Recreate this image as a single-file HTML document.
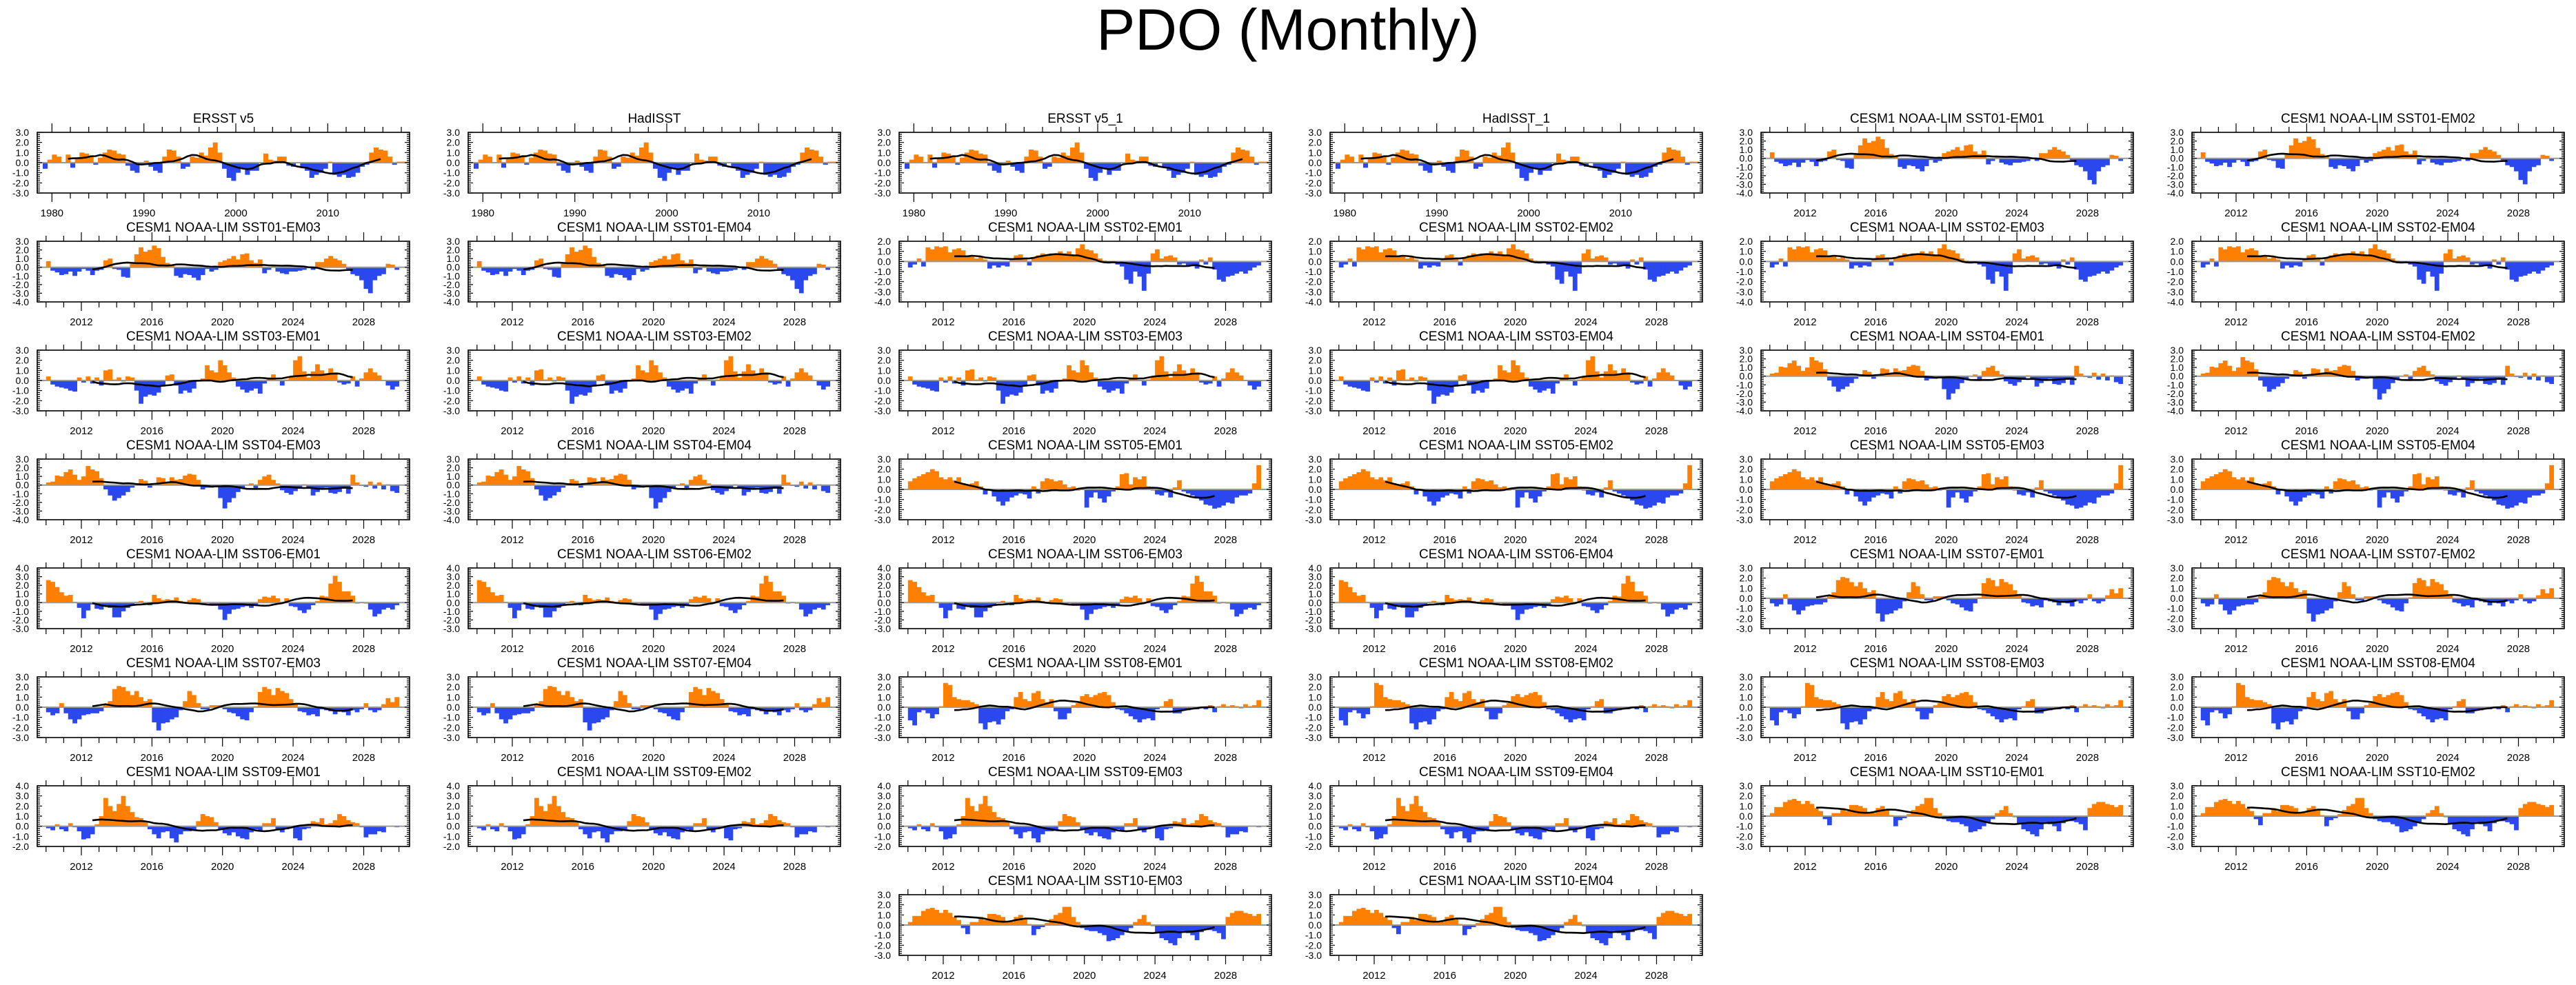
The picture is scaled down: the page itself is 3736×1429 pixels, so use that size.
<!DOCTYPE html>
<html><head><meta charset="utf-8"><title>PDO (Monthly)</title>
<style>
html,body{margin:0;padding:0;background:#fff;}
svg{display:block;font-family:"Liberation Sans",Arial,sans-serif;}
</style></head>
<body>
<svg id="fig" xmlns="http://www.w3.org/2000/svg" width="3736" height="1429" viewBox="0 0 3736 1429">
<rect width="3736" height="1429" fill="#fff"/>
<text x="1868" y="72" text-anchor="middle" font-size="84" fill="#000">PDO (Monthly)</text>
<g id="panels"></g>
</svg>
<script>
// ---- data: observations (semiannual means, 1979.0 onward) ----
const obsStart = 1979.0;
const obsStep = 0.5;
const obsPDO = [
-0.6,0.3, 0.8,0.6, 0.0,0.8, -0.5,0.4, 1.0,0.9, 0.6,-0.2, 0.5,1.0, 1.3,1.2, 0.9,0.8, -0.3,-0.8,
-1.0,-0.2, 0.2,-0.4, -0.8,-1.0, 0.6,1.3, 1.2,0.6, -0.6,-0.4, 0.6,0.5, 1.0,0.7, 1.5,2.0, 1.0,-0.6,
-1.5,-1.8, -1.0,-0.6, -1.2,-0.8, -0.8,0.0, 0.9,0.3, 0.2,0.6, 0.6,-0.3, -0.4,0.0, -0.5,-0.8, -1.5,-1.2,
-1.0,-0.6, 0.1,-1.2, -1.4,-1.2, -1.5,-1.4, -1.0,-0.4, -0.2,1.0, 1.5,1.3, 1.2,0.6, -0.2,0.1, 0.1
];
// ---- data: CESM1 NOAA-LIM (quarterly means, 2010.0 onward) ----
const cesmStart = 2010.0;
const cesmStep = 0.25;
const sst01 = [0.7,-0.4,-0.6,-0.9, -0.8,-0.5,-1.0,-0.5, -0.2,-0.4,-0.9,-0.4, -0.3,0.8,1.0,-0.2, -0.3,-1.1,-1.2,0.4,
 1.5,2.3,1.8,2.0, 2.5,2.2,1.2,0.5, 0.2,-1.0,-1.2,-0.8, -0.9,-1.2,-1.5,-0.9, -0.2,-0.5,-0.3,0.6,
 0.8,1.0,1.3,0.9, 1.5,1.6,0.8,0.5, 0.9,-0.7,-0.3,0.3, -0.5,-0.7,-0.8,-0.5, -0.5,-0.4,-0.3,0.0,
 -0.3,0.6,0.6,1.0, 1.3,1.0,0.8,0.4, -0.2,-0.8,-1.0,-1.5, -2.5,-3.0,-1.5,-1.0, -0.8,0.4,0.3,-0.3];
const sst02 = [-0.6,-0.3,0.3,-0.5, 1.4,1.2,1.5,1.4, 1.5,0.9,1.2,1.3, 1.1,0.6,0.5,0.3, 0.5,0.2,-0.7,-0.4,
 -0.6,-0.4,-0.5,0.3, 0.6,0.7,0.3,-0.4, 0.3,0.6,0.8,0.7, 0.8,0.7,1.0,0.8, 1.0,0.6,1.3,1.7,
 1.2,1.1,0.8,0.3, 0.1,-0.2,-0.1,-0.3, -0.5,-1.8,-2.2,-1.0, -1.5,-2.9,-1.2,0.8, 1.2,0.3,0.5,0.6,
 0.4,-0.3,-0.2,-0.5, -0.4,-0.7,0.2,-0.3, 0.4,-0.8,-1.8,-2.0, -1.5,-1.4,-1.2,-1.0, -1.2,-0.9,-0.6,-0.4];
const sst03 = [0.4,-0.4,-0.6,-0.7, -0.8,-1.0,-1.1,0.3, -0.2,0.4,-0.3,0.3, -0.5,1.0,1.1,0.1, 0.3,-0.1,0.4,0.3,
 -1.0,-2.3,-1.6,-1.4, -1.5,-1.2,-0.6,0.5, 0.6,-0.5,-1.3,-1.0, -1.2,-0.8,0.0,0.2, 1.5,1.0,0.8,2.0,
 1.5,0.8,0.3,-0.6, -0.9,-1.2,-1.0,-0.8, -1.3,-0.3,0.3,0.6, 0.0,-0.5,0.1,0.3, 2.0,2.4,0.9,0.3,
 0.9,1.6,1.0,0.7, 1.2,0.8,-0.2,-0.4, -0.3,0.4,-0.6,0.2, 0.8,1.2,0.8,0.5, 0.0,-0.5,-0.9,-0.6];
const sst04 = [0.3,0.4,1.1,1.0, 1.5,1.8,1.2,0.6, 1.0,2.2,1.8,1.6, 0.8,-0.5,-1.2,-1.8, -1.5,-1.2,-0.8,-0.3,
 0.2,0.7,0.5,-0.3, 0.2,0.9,0.8,0.3, 0.9,0.6,0.7,1.1, 1.3,1.2,0.6,-0.5, -0.3,-0.3,-0.1,-1.5,
 -2.7,-2.0,-1.5,-0.8, -0.3,0.0,0.2,-0.4, 0.6,1.0,1.2,0.6, 0.2,-0.6,-0.9,-1.1, -0.7,-0.4,0.1,-0.4,
 -1.2,-0.8,-0.4,-0.3, -0.9,-1.0,-0.8,-0.4, -1.0,1.2,0.3,-0.1, -0.2,0.4,-0.4,0.3, -0.5,0.1,-0.7,-0.9];
const sst05 = [0.8,1.1,1.3,1.5, 1.7,2.0,1.8,1.2, 1.0,1.2,0.9,1.2, 0.6,0.5,0.6,0.8, 0.3,-0.5,0.0,-0.7,
 -1.2,-1.6,-1.2,-0.8, -0.6,-0.4,-0.5,-0.9, 0.3,-0.4,0.8,1.1, 1.0,0.8,0.9,0.5, 0.2,0.3,-0.1,0.0,
 -1.8,-0.8,-0.3,-0.9, -1.3,-0.7,-0.2,0.3, 1.5,1.6,0.5,1.2, 1.0,1.3,0.3,-0.1, -0.5,-0.6,-0.3,-0.8,
 0.2,0.9,-0.2,-0.4, -0.6,-0.9,-1.1,-1.5, -1.6,-1.9,-1.8,-1.6, -1.3,-1.4,-0.8,-0.6, -0.6,-0.4,0.6,2.4];
const sst06 = [2.6,2.4,1.8,1.2, 0.8,0.9,0.1,-0.6, -1.8,-0.9,-0.2,-0.7, -0.8,-0.3,-0.6,-1.7, -1.7,-1.0,-0.6,-0.3,
 0.1,0.2,-0.2,-0.3, 0.9,0.5,0.3,0.4, 0.3,0.6,0.2,0.1, 0.3,0.5,0.4,-0.1, -0.1,-0.2,-0.3,-0.8,
 -2.0,-1.3,-0.8,-0.7, -0.5,-0.4,-0.6,-0.3, 0.4,0.7,0.6,0.8, 0.5,0.1,0.5,-0.4, -0.5,-0.9,-1.2,-0.8,
 -0.3,0.2,0.8,0.7, 2.2,3.1,2.4,1.3, 1.3,0.8,-0.1,0.1, -0.1,-0.8,-1.6,-1.3, -0.8,-0.6,-0.8,-0.3];
const sst07 = [-0.5,-0.8,-0.6,0.4, -0.6,-1.2,-1.6,-1.2, -0.8,-0.7,-0.6,-0.6, -0.4,0.3,0.6,1.8, 2.1,2.0,1.6,1.2,
 1.6,1.0,0.6,0.8, -1.5,-2.3,-1.6,-1.5, -1.2,-1.0,-0.3,0.6, 1.6,1.2,0.4,-0.2, -0.2,0.2,0.2,0.2,
 -0.2,-0.5,-0.6,-0.9, -1.2,-1.3,-0.5,0.1, 1.5,2.0,1.8,1.2, 1.9,1.6,1.4,0.8, 0.4,-0.4,-0.5,-0.8,
 -0.7,-0.9,-0.2,-0.3, -0.4,-0.7,-0.3,-0.5, -0.8,-0.3,-0.5,-0.2, 0.4,-0.3,-0.5,-0.3, 0.3,0.9,0.5,1.0];
const sst08 = [-1.3,-1.8,-0.5,-0.3, -0.6,-1.1,-0.7,0.1, 2.4,2.2,1.0,0.8, 0.7,0.7,0.5,0.3, -1.6,-2.2,-1.5,-1.4,
 -1.7,-1.2,-0.4,-0.2, 1.0,1.5,0.8,0.6, 1.4,1.6,0.8,0.5, 0.8,-0.4,-1.2,-1.2, -0.6,0.2,0.4,1.1,
 1.3,1.0,1.2,1.4, 1.5,1.2,0.5,-0.2, -0.3,-0.6,-0.9,-1.2, -1.5,-1.2,-1.1,-1.3, -0.2,0.1,0.6,0.8,
 -0.6,-0.6,-0.3,-0.3, -0.2,-0.2,0.0,-0.2, 0.2,-0.5,0.1,0.3, 0.1,0.2,0.1,-0.1, 0.3,0.1,0.2,0.7];
const sst09 = [-0.2,-0.4,0.2,-0.3, -0.5,0.3,-0.1,-0.5, -1.3,-1.2,-0.8,0.2, 1.0,2.8,2.0,1.5, 2.2,3.0,2.0,1.4,
 0.9,0.8,0.5,-0.3, -0.8,-1.2,-0.6,-0.5, -1.2,-1.6,-0.8,-0.5, -0.5,-0.4,0.5,1.2, 1.0,0.9,0.4,-0.3,
 -0.7,-0.9,-0.6,-1.0, -1.2,-1.3,-0.6,-0.3, -0.4,0.3,0.3,0.8, -0.4,-0.6,-0.3,-0.1, -1.2,-1.4,-0.3,-0.2,
 0.5,0.4,0.8,0.2, 0.3,0.6,1.2,1.0, 0.6,0.4,0.3,-0.1, -1.1,-0.8,-0.8,-0.5, -0.6,0.0,0.0,-0.1];
const sst10 = [0.3,0.9,0.9,1.4, 1.6,1.7,1.5,1.2, 1.5,1.2,0.8,0.5, -0.3,-0.9,0.3,0.3, 0.8,0.5,1.1,1.1,
 1.0,0.8,0.3,0.3, 0.8,1.0,0.6,0.1, -1.0,-0.4,-0.2,0.2, 0.6,1.0,1.2,1.8, 1.8,0.8,0.3,-0.3,
 -0.5,-0.6,-0.6,-0.8, -1.0,-1.6,-1.5,-1.3, -1.0,-0.6,-0.3,0.3, 0.6,1.0,0.3,-0.1, -0.8,-1.3,-1.5,-1.8,
 -2.0,-1.3,-0.6,-0.8, -1.0,-1.5,-0.7,-0.5, -0.5,-0.6,-0.8,-1.4, 0.8,1.2,1.4,1.4, 1.2,1.1,0.9,1.1];
// y-axis ranges per series
const yRanges = {obs:[-3,3],sst01:[-4,3],sst02:[-4,2],sst03:[-3,3],sst04:[-4,3],sst05:[-3,3],sst06:[-3,4],sst07:[-3,3],sst08:[-3,3],sst09:[-2,4],sst10:[-3,3]};
const obsTicks = [1980,1990,2000,2010];
const cesmTicks = [2012,2016,2020,2024,2028];

const seriesMap = {obs:obsPDO,sst01,sst02,sst03,sst04,sst05,sst06,sst07,sst08,sst09,sst10};

const panelList = [];
(function(){
  const t = ["ERSST v5","HadISST","ERSST v5_1","HadISST_1"];
  t.forEach((n,i)=>panelList.push([0,i,n,'obs']));
  const names=[];
  for(let s=1;s<=10;s++) for(let e=1;e<=4;e++) names.push([s,e]);
  let idx=4;
  names.forEach(([s,e])=>{
    let r,c;
    if(idx<46){ r=Math.floor(idx/6); c=idx%6; }
    if(r===7){ c=c+2; }
    const key='sst'+String(s).padStart(2,'0');
    panelList.push([r,c,'CESM1 NOAA-LIM SST'+String(s).padStart(2,'0')+'-EM0'+e,key]);
    idx++;
  });
})();

const NS='http://www.w3.org/2000/svg';
function mk(tag,attrs,parent){const e=document.createElementNS(NS,tag);for(const k in attrs)e.setAttribute(k,attrs[k]);parent.appendChild(e);return e;}
const root=document.getElementById('panels');

panelList.forEach(([r,c,title,key])=>{
  const L=54+625*c, T=192+158*r, W=540, H=88;
  const isObs = key==='obs';
  const vals = seriesMap[key];
  const start = isObs?obsStart:cesmStart, step = isObs?obsStep:cesmStep;
  const x0 = isObs?1978.4:2009.5, x1 = isObs?2018.9:2030.6;
  const [ymin,ymax] = yRanges[key];
  const X = v=>L+(v-x0)/(x1-x0)*W;
  const Y = v=>T+H-(v-ymin)/(ymax-ymin)*H;
  const g = mk('g',{},root);
  
  
  const tt = mk('text',{x:L+W/2,y:T-14,'text-anchor':'middle','font-size':19,fill:'#000'},g);
  tt.textContent=title;
  
  
  // bars
  const y0=Y(0);
  vals.forEach((v,i)=>{
    const a=X(start+i*step), b=X(start+(i+1)*step);
    const yv=Y(v);
    const rc = mk('rect',{x:a.toFixed(2),y:Math.min(yv,y0).toFixed(2),width:(b-a+0.4).toFixed(2),height:Math.abs(y0-yv).toFixed(2),fill:v>=0?'#ff8000':'#2b47ee'},g);
    
    
  });
  // zero line
  const zl = mk('line',{x1:L,x2:L+W,y1:y0,y2:y0,stroke:'#9a9a9a','stroke-width':2},g);
  
  
  // running mean
  const hw = isObs?5:10;
  let pts=[];
  for(let i=hw;i<vals.length-hw;i++){
    let s=0;for(let j=i-hw;j<=i+hw;j++)s+=vals[j];
    pts.push(X(start+(i+0.5)*step).toFixed(1)+','+Y(s/(2*hw+1)).toFixed(1));
  }
  const pl = mk('polyline',{points:pts.join(' '),fill:'none',stroke:'#000','stroke-width':2.6,'stroke-linejoin':'round'},g);
  
  
  // frame
  const fr = mk('rect',{x:L,y:T,width:W,height:H,fill:'none',stroke:'#000','stroke-width':1.6},g);
  
  
  // y ticks
  let d='';
  for(let v=ymin;v<=ymax+1e-9;v+=0.2){
    const yy=Y(v).toFixed(1); const maj=Math.abs(v-Math.round(v))<1e-6; const len=maj?7:4;
    d+=`M${L},${yy}h${len}M${L+W},${yy}h${-len}`;
    if(maj){
      const lb=mk('text',{x:L-12,y:+yy+5,'text-anchor':'end','font-size':14,fill:'#000'},g);
      lb.textContent=Math.round(v).toFixed(1);
      
      
    }
  }
  // x ticks
  const minorStep = isObs?2:1;
  for(let v=Math.ceil(x0);v<=x1;v++){
    if((v-(isObs?1980:2012))%minorStep!==0)continue;
    const xx=X(v).toFixed(1);
    const major = (isObs?obsTicks:cesmTicks).includes(v);
    const len = major?13:8;
    d+=`M${xx},${T}v${-len}M${xx},${T+H}v${len}`;
  }
  (isObs?obsTicks:cesmTicks).forEach(v=>{
    const lb=mk('text',{x:X(v),y:T+H+34,'text-anchor':'middle','font-size':15,fill:'#000'},g);
    lb.textContent=String(v);
    
    
  });
  const tk = mk('path',{d:d,stroke:'#000','stroke-width':1.2,fill:'none'},g);
  
  
});
</script>
</body></html>
